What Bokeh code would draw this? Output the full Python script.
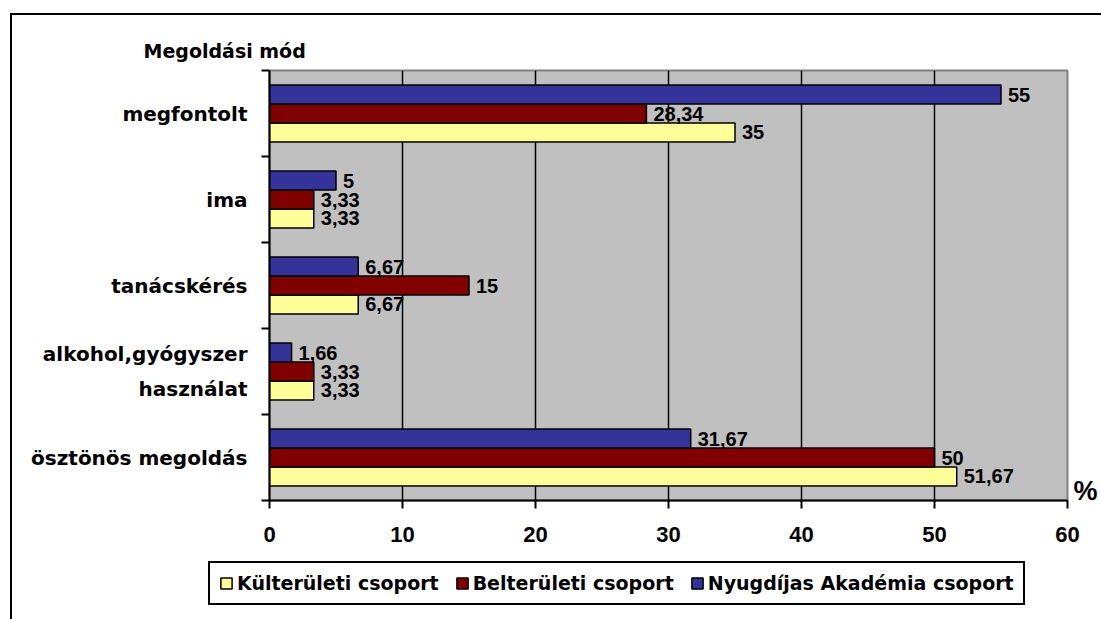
from bokeh.plotting import figure
from bokeh.models import (ColumnDataSource, Range1d, FixedTicker, LabelSet,
                          Legend, LegendItem, LinearAxis)
from bokeh.layouts import column
from bokeh.core.properties import value
from bokeh.embed import file_html
from bokeh.resources import INLINE

# ---- data ----
categories = ["megfontolt", "ima", "tanácskérés", "alkohol,gyógyszer\nhasználat", "ösztönös megoldás"]
series_names = ["Külterületi csoport", "Belterületi csoport", "Nyugdíjas Akadémia csoport"]
kulteruleti = [35, 3.33, 6.67, 3.33, 51.67]
belteruleti = [28.34, 3.33, 15, 3.33, 50]
nyugdijas = [55, 5, 6.67, 1.66, 31.67]
x_ticks = [0, 10, 20, 30, 40, 50, 60]
title_text = "Megoldási mód"
unit_text = "%"

colors = ["#FFFF99", "#800000", "#333399"]
offsets = [-0.22, 0.0, 0.22]
bar_h = 0.22
NUM_FONT = "Liberation Sans"
TXT_FONT = "DejaVu Sans"

n = len(categories)
centers = [n - 0.5 - k for k in range(n)]

W = 1089
p = figure(width=W, height=540, output_backend="svg", toolbar_location=None,
           x_range=Range1d(0, 60), y_range=Range1d(0, n),
           min_border_left=257, min_border_right=34, min_border_top=55, min_border_bottom=55,
           background_fill_color="#C0C0C0", outline_line_color="#808080", outline_line_width=2)
p.frame_align = False

# title
p.title.text = title_text
p.title.align = "left"
p.title.offset = -126
p.title.standoff = 17
p.title.text_font = TXT_FONT
p.title.text_font_style = "bold"
p.title.text_font_size = "19px"
p.title.text_color = "black"

sources = []
for vals, col, off in zip([kulteruleti, belteruleti, nyugdijas], colors, offsets):
    src = ColumnDataSource(dict(
        y=[c + off for c in centers],
        v=vals,
        lbl=[f"{v:g}".replace(".", ",") for v in vals],
    ))
    sources.append(src)
    p.hbar(y="y", left=0, right="v", height=bar_h, source=src,
           fill_color=col, line_color="black", line_width=1.5)
    p.add_layout(LabelSet(x="v", y="y", text="lbl", source=src, x_offset=7,
                          text_baseline="middle", text_align="left",
                          text_font=value(NUM_FONT), text_font_style="bold",
                          text_font_size="20px", text_color="black"))

# grid
p.ygrid.visible = False
p.xgrid.ticker = FixedTicker(ticks=x_ticks)
p.xgrid.grid_line_color = "black"
p.xgrid.grid_line_width = 1.5

# x axis
xa = p.xaxis[0]
xa.ticker = FixedTicker(ticks=x_ticks)
xa.axis_line_color = "black"
xa.axis_line_width = 2
xa.major_tick_out = 8
xa.major_tick_in = 0
xa.major_tick_line_width = 2
xa.minor_tick_line_color = None
xa.major_label_text_font = NUM_FONT
xa.major_label_text_font_style = "bold"
xa.major_label_text_font_size = "22px"
xa.major_label_text_color = "black"
xa.major_label_standoff = 18

# y axis (labels at category centres, ticks at category boundaries)
ya = p.yaxis[0]
ya.ticker = FixedTicker(ticks=centers, minor_ticks=list(range(n + 1)))
ya.major_label_overrides = {c: name for c, name in zip(centers, categories)}
ya.axis_line_color = "black"
ya.axis_line_width = 2
ya.major_tick_out = 0
ya.major_tick_in = 0
ya.minor_tick_out = 8
ya.minor_tick_in = 0
ya.minor_tick_line_width = 2
ya.minor_tick_line_color = "black"
ya.major_label_text_font = TXT_FONT
ya.major_label_text_font_style = "bold"
ya.major_label_text_font_size = "20px"
ya.major_label_text_color = "black"
ya.major_label_text_line_height = 1.45
ya.major_label_standoff = 14

# unit sign on the right, just above the value axis
ra = LinearAxis(ticker=FixedTicker(ticks=[0.105]), major_label_overrides={0.105: unit_text})
ra.axis_line_color = None
ra.major_tick_line_color = None
ra.minor_tick_line_color = None
ra.major_label_standoff = 0
ra.major_label_text_font = NUM_FONT
ra.major_label_text_font_style = "bold"
ra.major_label_text_font_size = "27px"
ra.major_label_text_color = "black"
p.add_layout(ra, "right")

# legend strip (separate canvas so nothing is clipped by the plot frame);
# its proxy bars share the data but lie far outside this strip's visible ranges
p2 = figure(width=W, height=64, output_backend="svg", toolbar_location=None,
            x_range=Range1d(-300, -200), y_range=Range1d(20, 21),
            x_axis_location=None, y_axis_location=None,
            min_border=0, outline_line_color=None, background_fill_color="white")
p2.frame_align = False
p2.grid.visible = False
proxies = []
for src, col in zip(sources, colors):
    proxies.append(p2.hbar(y="y", right="v", left=0, height=bar_h, source=src,
                           fill_color=col, line_color="black", line_width=1.5))
legend = Legend(items=[LegendItem(label=nm, renderers=[r]) for nm, r in zip(series_names, proxies)],
                orientation="horizontal", location=(196, 14),
                border_line_color="black", border_line_width=2, border_line_alpha=1,
                background_fill_color="white", background_fill_alpha=1,
                label_text_font=TXT_FONT, label_text_font_style="bold", label_text_font_size="19px",
                label_text_color="black",
                glyph_width=14, glyph_height=14, label_standoff=4, spacing=16,
                padding=9, margin=0)
p2.add_layout(legend, "center")

layout = column(p, p2, spacing=0)
layout.styles = {"margin-left": "10px", "margin-top": "13px",
                 "border-left": "2px solid black", "border-top": "2px solid black"}

open("out.html", "w").write(file_html(layout, INLINE))
